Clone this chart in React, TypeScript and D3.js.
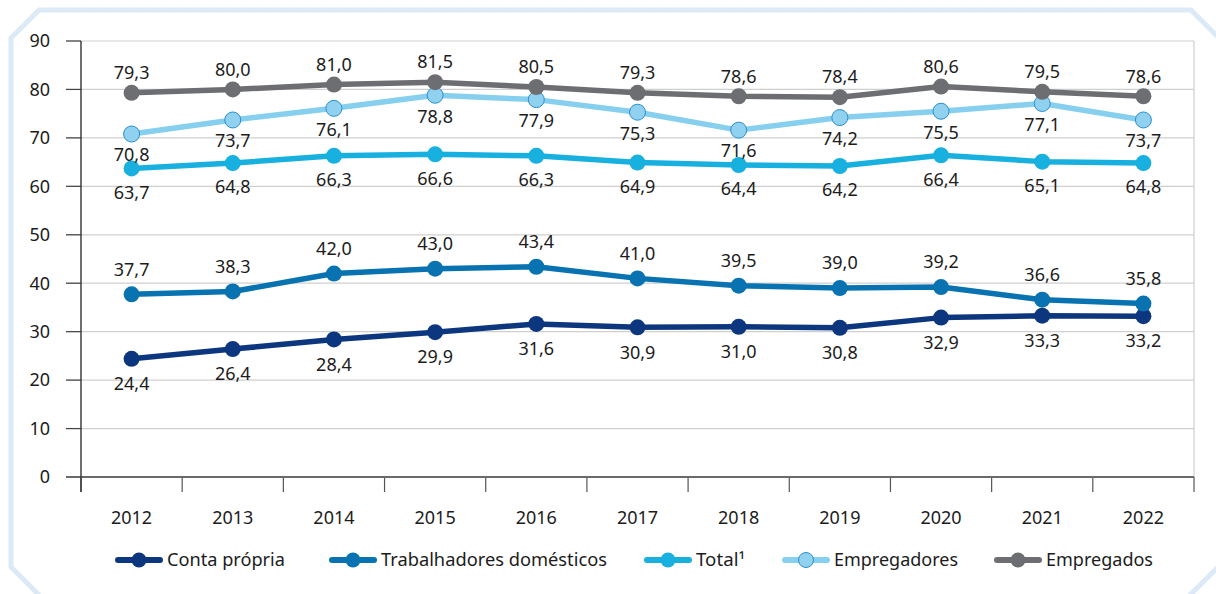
import React from "react";
import * as d3 from "d3";

const years = ["2012","2013","2014","2015","2016","2017","2018","2019","2020","2021","2022"];
const contaPropria = [24.4,26.4,28.4,29.9,31.6,30.9,31.0,30.8,32.9,33.3,33.2];
const domesticos = [37.7,38.3,42.0,43.0,43.4,41.0,39.5,39.0,39.2,36.6,35.8];
const total = [63.7,64.8,66.3,66.6,66.3,64.9,64.4,64.2,66.4,65.1,64.8];
const empregadores = [70.8,73.7,76.1,78.8,77.9,75.3,71.6,74.2,75.5,77.1,73.7];
const empregados = [79.3,80.0,81.0,81.5,80.5,79.3,78.6,78.4,80.6,79.5,78.6];
const yTicks = [0,10,20,30,40,50,60,70,80,90];

const series = [
  { name: "Conta própria", values: contaPropria, color: "#0c377f", fill: "#0c377f", stroke: "none", labelDy: 25, legendX: 118, textW: 118 },
  { name: "Trabalhadores domésticos", values: domesticos, color: "#0873b0", fill: "#0873b0", stroke: "none", labelDy: -25, legendX: 332, textW: 226 },
  { name: "Total¹", values: total, color: "#17b0df", fill: "#17b0df", stroke: "none", labelDy: 24, legendX: 647, textW: 49 },
  { name: "Empregadores", values: empregadores, color: "#87cfee", fill: "#8fd1ef", stroke: "#2a8fd0", labelDy: 21, legendX: 785, textW: 124 },
  { name: "Empregados", values: empregados, color: "#6d6e72", fill: "#6d6e72", stroke: "none", labelDy: -20, legendX: 997, textW: 107 },
];

const fmt = (v: number) => v.toFixed(1).replace(".", ",");

export default function App() {
  const W = 1216, H = 594;
  const left = 81, right = 1194, top = 41, bottom = 477;
  const x = d3.scaleBand<string>().domain(years).range([left, right]).padding(0);
  const y = d3.scaleLinear().domain([0, 90]).range([bottom, top]);
  const cx = (yr: string) => (x(yr) as number) + x.bandwidth() / 2;
  const font = "'Noto Sans', 'Open Sans', sans-serif";
  const line = d3.line<number>().x((_, i) => cx(years[i])).y((v) => y(v));
  const edges = years.map((yr) => x(yr) as number).concat([right]);
  const txt = "#1c1c1c";

  return (
    <svg width={W} height={H} style={{ position: "absolute", left: 0, top: 0 }} fontFamily={font}>
      <rect x={0} y={0} width={W} height={H} fill="#ffffff" />
      <polygon
        points="11,38 39,10 1191,10 1226,45 1226,559 1181,604 48,604 11,567"
        fill="none" stroke="#dce9f6" strokeWidth={5}
      />
      {yTicks.filter((t) => t > 0).map((t) => (
        <line key={t} x1={66} x2={right} y1={y(t)} y2={y(t)} stroke="#cfcfcf" strokeWidth={1.2} />
      ))}
      {yTicks.filter((t) => t > 0).map((t) => (
        <line key={"tk" + t} x1={66} x2={left} y1={y(t)} y2={y(t)} stroke="#444" strokeWidth={1.2} />
      ))}
      <line x1={right} x2={right} y1={top} y2={bottom} stroke="#cfcfcf" strokeWidth={1.2} />
      {edges.map((e, i) => (
        <line key={"xt" + i} x1={e} x2={e} y1={bottom} y2={492} stroke="#555" strokeWidth={1.2} />
      ))}
      <line x1={66} x2={right} y1={bottom} y2={bottom} stroke="#6a6a6a" strokeWidth={2} />
      <line x1={left} x2={left} y1={top} y2={492} stroke="#333" strokeWidth={1.4} />
      {yTicks.map((t) => (
        <text key={"yl" + t} x={50} y={y(t)} dy="0.35em" textAnchor="end" fontSize={18} fill={txt}>{t}</text>
      ))}
      {years.map((yr) => (
        <text key={"xl" + yr} x={cx(yr)} y={518} dy="0.35em" textAnchor="middle" fontSize={18} fill={txt}>{yr}</text>
      ))}
      {series.map((s) => (
        <g key={s.name}>
          <path d={line(s.values) as string} fill="none" stroke={s.color} strokeWidth={5.5} strokeLinejoin="round" />
          {s.values.map((v, i) => (
            <circle key={i} cx={cx(years[i])} cy={y(v)} r={8} fill={s.fill} stroke={s.stroke} strokeWidth={1} />
          ))}
          {s.values.map((v, i) => (
            <text key={"l" + i} x={cx(years[i])} y={y(v) + s.labelDy} dy="0.35em" textAnchor="middle" fontSize={18} fill={txt}>{fmt(v)}</text>
          ))}
        </g>
      ))}
      {series.map((s) => (
        <g key={"lg" + s.name}>
          <line x1={s.legendX} x2={s.legendX + 42} y1={560} y2={560} stroke={s.color} strokeWidth={6} strokeLinecap="round" />
          <circle cx={s.legendX + 21} cy={560} r={7.5} fill={s.fill} stroke={s.stroke} strokeWidth={1} />
          <text x={s.legendX + 49} y={560} dy="0.35em" fontSize={18} fill={txt} textLength={s.textW} lengthAdjust="spacingAndGlyphs">{s.name}</text>
        </g>
      ))}
    </svg>
  );
}
